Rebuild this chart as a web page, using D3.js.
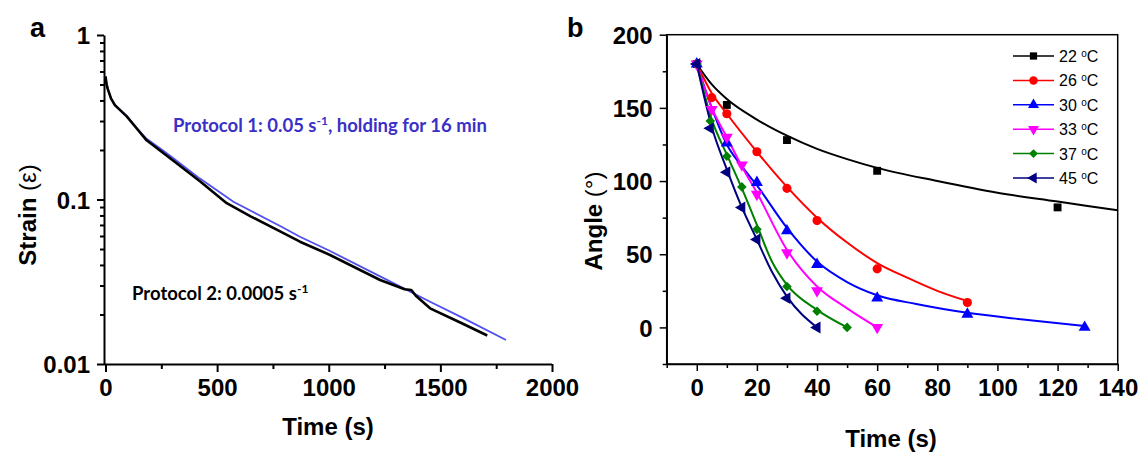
<!DOCTYPE html>
<html>
<head>
<meta charset="utf-8">
<script src="https://cdn.jsdelivr.net/npm/d3@7"></script>
<style>
  body { margin: 0; background: #fff; }
  text { font-family: "Liberation Sans", Arial, sans-serif; }
</style>
</head>
<body>
<svg id="chart" width="1140" height="452"></svg>
<script>
// ---- panel a data: strain vs time (log scale) ----
const strainTicks = [0.01, 0.1, 1];
const timeTicksA = [0, 500, 1000, 1500, 2000];
// protocol 1 (blue): [time s, strain]
const protocol1 = [[0,0.56],[5,0.50],[10,0.47],[25,0.41],[42,0.375],[95,0.322],[140,0.272],[184,0.234],[250,0.202],
  [304,0.178],[423,0.134],[573,0.097],[782,0.069],[871,0.0594],[1006,0.0486],[1230,0.0341],[1454,0.0239],
  [1596,0.0192],[1794,0.014]];
// protocol 2 (black)
const protocol2 = [[0,0.56],[5,0.50],[10,0.47],[25,0.41],[42,0.375],[95,0.32],[140,0.27],[184,0.229],[250,0.196],
  [304,0.172],[423,0.129],[543,0.095],[650,0.079],[782,0.064],[871,0.0554],[1006,0.046],[1230,0.0324],
  [1340,0.0285],[1370,0.0282],[1390,0.026],[1454,0.0218],[1596,0.0177],[1710,0.0149]];

// ---- panel b data: angle vs time ----
const angleTicks = [0, 50, 100, 150, 200];
const timeTicksB = [0, 20, 40, 60, 80, 100, 120, 140];
const temps = ["22", "26", "30", "33", "37", "45"];
const colors = ["#000000", "#ff0000", "#0000ff", "#ff00ff", "#008000", "#000080"];
const pts22 = [[0,180],[10,152],[30,128],[60,107],[120,82]];
const pts26 = [[0,180],[5,157],[10,146],[20,120],[30,95],[40,73],[60,40],[90,17]];
const pts30 = [[0,180],[10,126],[20,99],[30,66],[40,43],[60,20],[90,9],[129,0]];
const pts33 = [[0,180],[5,149],[10,130],[15,111],[20,91],[30,51],[40,25],[60,0]];
const pts37 = [[0,180],[4.5,141],[10,117],[15,96],[20,67],[30,28],[40,11],[50,0]];
const pts45 = [[0,180],[4.5,136],[10,106],[15,82],[20,60],[30,20],[40,0]];
// fitted curves
const fit22 = [[0,180],[5,166],[10,156],[20,142],[30,131],[40,122],[50,115],[60,109],[80,100],[100,92],[120,86],[140,80]];
const fit26 = [[0,180],[5,160],[10,146],[20,120],[30,96],[40,75],[50,58],[60,44],[70,34],[80,25],[90,18]];
const fit30 = [[0,180],[5,150],[10,125],[15,110],[20,97],[30,68],[40,45],[50,31],[60,22],[73,16],[90,10],[106,6],[129,1]];
const fit33 = [[0,180],[5,150],[10,130],[15,110],[20,92],[30,53],[40,28],[50,13],[60,0]];
const fit37 = [[0,180],[5,142],[10,118],[15,95],[20,70],[25,45],[30,29],[40,12],[50,0]];
const fit45 = [[0,180],[5,137],[10,108],[15,82],[20,60],[25,38],[30,21],[40,0]];

const points = [pts22, pts26, pts30, pts33, pts37, pts45];
const fits = [fit22, fit26, fit30, fit33, fit37, fit45];

const svg = d3.select("#chart");

// ================= panel a =================
const xA = d3.scaleLinear().domain([0, 2000]).range([105.5, 552]);
const yA = d3.scaleLog().domain([0.01, 1]).range([364, 35]);

// x axis
const gxA = svg.append("g").attr("transform", "translate(0,364)");
gxA.call(d3.axisBottom(xA).tickValues(d3.range(0, 2001, 250)).tickSizeOuter(0).tickFormat(""));
gxA.selectAll(".tick line").attr("y2", d => d % 500 === 0 ? 8 : 5);
gxA.selectAll(".tick text").remove();
gxA.selectAll(".tick").filter(d => timeTicksA.includes(d)).append("text")
  .attr("y", 32).attr("fill", "#000").attr("text-anchor", "middle")
  .style("font-size", "24px").style("font-weight", "bold").text(d => d);
gxA.select(".domain").attr("d", "M" + (xA(0) - 1.5) + ",0.5H" + xA(2000));

// y axis
const minorA = [];
[0.01, 0.1].forEach(dec => { for (let k = 2; k <= 9; k++) minorA.push(dec * k); });
const gyA = svg.append("g").attr("transform", "translate(104,0)");
gyA.call(d3.axisLeft(yA).tickValues(strainTicks.concat(minorA)).tickSizeOuter(0).tickFormat(""));
gyA.selectAll(".tick line").attr("x2", d => strainTicks.includes(d) ? -7 : -4);
gyA.selectAll(".tick text").remove();
gyA.selectAll(".tick").filter(d => strainTicks.includes(d)).append("text")
  .attr("x", -14).attr("dy", "0.36em").attr("fill", "#000").attr("text-anchor", "end")
  .style("font-size", "24px").style("font-weight", "bold").text(d => d);
[gxA, gyA].forEach(g => { g.selectAll("path, line").attr("stroke", "#000").attr("stroke-width", 2); });

const lineA = d3.line().x(d => xA(d[0])).y(d => yA(d[1]));
svg.append("path").datum(protocol1).attr("d", lineA)
  .attr("fill", "none").attr("stroke", "#4f4ff2").attr("stroke-width", 1.8);
svg.append("path").datum(protocol2).attr("d", lineA)
  .attr("fill", "none").attr("stroke", "#000").attr("stroke-width", 2.6).attr("stroke-linejoin", "round");

// annotations
const ann1 = svg.append("text").attr("x", 173).attr("y", 132)
  .style("font-family", "Lato, 'Open Sans', sans-serif").style("font-weight", "bold")
  .style("font-size", "18.5px").attr("fill", "#3a30c8");
ann1.append("tspan").text("Protocol 1: 0.05 s");
ann1.append("tspan").attr("dy", -7).style("font-size", "12px").text("-1");
ann1.append("tspan").attr("dy", 7).text(", holding for 16 min");

const ann2 = svg.append("text").attr("x", 132).attr("y", 300)
  .style("font-family", "Lato, 'Open Sans', sans-serif").style("font-weight", "bold")
  .style("font-size", "18.5px").attr("fill", "#000");
ann2.append("tspan").text("Protocol 2: 0.0005 s");
ann2.append("tspan").attr("dy", -7).style("font-size", "12px").text("-1");

// axis titles
svg.append("text").attr("x", 328).attr("y", 435).attr("text-anchor", "middle")
  .style("font-size", "24px").style("font-weight", "bold").text("Time (s)");
const tStrain = svg.append("text").attr("transform", "translate(36,215) rotate(-90)")
  .attr("text-anchor", "middle").style("font-size", "24px");
tStrain.append("tspan").style("font-weight", "bold").text("Strain ");
tStrain.append("tspan").text("(ε)");

svg.append("text").attr("x", 30).attr("y", 37).style("font-size", "27px")
  .style("font-weight", "bold").text("a");

// ================= panel b =================
const xB = d3.scaleLinear().domain([-10, 140]).range([666.7, 1117.7]);
const yB = d3.scaleLinear().domain([-25, 200]).range([364, 34.7]);

const gxB = svg.append("g").attr("transform", "translate(0,364)");
gxB.call(d3.axisBottom(xB).tickValues(d3.range(-10, 141, 10)).tickSizeOuter(0).tickFormat(""));
gxB.selectAll(".tick line").attr("y2", d => d % 20 === 0 ? 7 : 4);
gxB.selectAll(".tick text").remove();
gxB.selectAll(".tick").filter(d => timeTicksB.includes(d)).append("text")
  .attr("y", 32).attr("fill", "#000").attr("text-anchor", "middle")
  .style("font-size", "24px").style("font-weight", "bold").text(d => d);

const gyB = svg.append("g").attr("transform", "translate(666.7,0)");
gyB.call(d3.axisLeft(yB).tickValues(d3.range(-25, 201, 25)).tickSizeOuter(0).tickFormat(""));
gyB.selectAll(".tick line").attr("x2", d => d % 50 === 0 ? -7 : -4);
gyB.selectAll(".tick text").remove();
gyB.selectAll(".tick").filter(d => angleTicks.includes(d)).append("text")
  .attr("x", -14).attr("dy", "0.36em").attr("fill", "#000").attr("text-anchor", "end")
  .style("font-size", "24px").style("font-weight", "bold").text(d => d);

svg.append("rect").attr("x", xB(-10)).attr("y", yB(200))
  .attr("width", xB(140) - xB(-10)).attr("height", yB(-25) - yB(200))
  .attr("fill", "none").attr("stroke", "#000").attr("stroke-width", 1.5);
[gxB, gyB].forEach(g => { g.selectAll("path, line").attr("stroke", "#000").attr("stroke-width", 1.5); });

const symbols = [
  { type: d3.symbolSquare, size: 62, rot: 0 },
  { type: d3.symbolCircle, size: 66, rot: 0 },
  { type: d3.symbolTriangle, size: 62, rot: 0 },
  { type: d3.symbolTriangle, size: 62, rot: 180 },
  { type: d3.symbolSquare, size: 46, rot: 45 },
  { type: d3.symbolTriangle, size: 62, rot: -90 }
];

const lineB = d3.line().curve(d3.curveMonotoneX).x(d => xB(d[0])).y(d => yB(d[1]));
fits.forEach((f, i) => {
  svg.append("path").datum(f).attr("d", lineB)
    .attr("fill", "none").attr("stroke", colors[i]).attr("stroke-width", 2);
});
points.forEach((p, i) => {
  const s = symbols[i];
  svg.append("g").selectAll("path").data(p).join("path")
    .attr("transform", d => `translate(${xB(d[0])},${yB(d[1])}) rotate(${s.rot})`)
    .attr("d", d3.symbol().type(s.type).size(s.size))
    .attr("fill", colors[i]);
});

// legend
const legend = svg.append("g");
temps.forEach((t, i) => {
  const yy = 56 + i * 24.4;
  legend.append("line").attr("x1", 1013).attr("x2", 1054).attr("y1", yy).attr("y2", yy)
    .attr("stroke", colors[i]).attr("stroke-width", 1.5);
  const s = symbols[i];
  legend.append("path").attr("transform", `translate(1033.5,${yy}) rotate(${s.rot})`)
    .attr("d", d3.symbol().type(s.type).size(s.size * 0.85)).attr("fill", colors[i]);
  const tx = legend.append("text").attr("x", 1059).attr("y", yy + 6).style("font-size", "16px");
  tx.append("tspan").text(t + " ");
  tx.append("tspan").attr("dy", -5).style("font-size", "10px").text("o");
  tx.append("tspan").attr("dy", 5).text("C");
});

svg.append("text").attr("x", 891).attr("y", 447).attr("text-anchor", "middle")
  .style("font-size", "24px").style("font-weight", "bold").text("Time (s)");
const tAngle = svg.append("text").attr("transform", "translate(602,221) rotate(-90)")
  .attr("text-anchor", "middle").style("font-size", "24px");
tAngle.append("tspan").style("font-weight", "bold").text("Angle ");
tAngle.append("tspan").text("(°)");

svg.append("text").attr("x", 567).attr("y", 37).style("font-size", "27px")
  .style("font-weight", "bold").text("b");
</script>
</body>
</html>
